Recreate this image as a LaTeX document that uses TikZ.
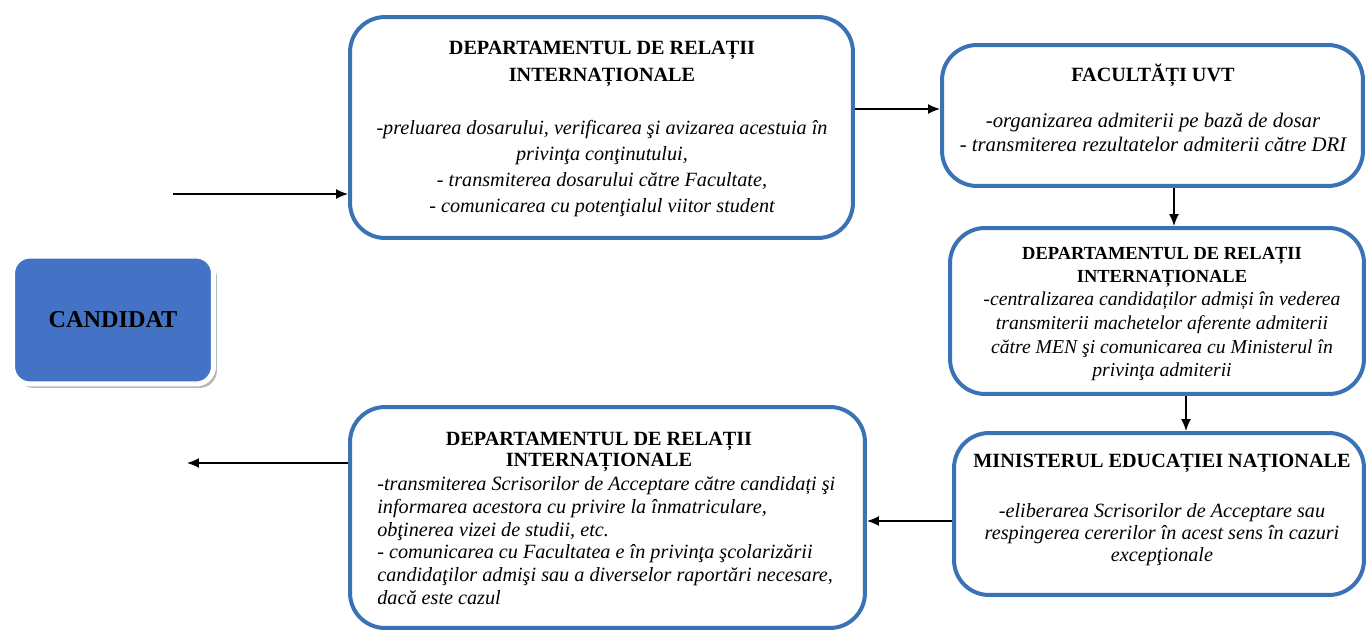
\documentclass[tikz,border=0pt]{standalone}
\usepackage{fontspec}
\setmainfont{Liberation Serif}
\usetikzlibrary{arrows.meta,shadows}
\definecolor{boxblue}{RGB}{58,114,182}
\definecolor{candblue}{RGB}{68,114,196}
\tikzset{
  procbox/.style={draw=boxblue, line width=0.08cm, rounded corners=0.7cm, fill=white, inner sep=0pt},
  candbox/.style={fill=candblue, draw=white, line width=0.1cm, rounded corners=0.35cm,
    minimum width=4.02cm, minimum height=2.56cm, inner sep=0pt,
    drop shadow={shadow xshift=0.07cm, shadow yshift=-0.08cm, fill=black!35, opacity=0.8}},
  txt/.style={inner sep=0pt, align=center, anchor=north},
  flow/.style={line width=0.85pt, -{Latex[length=0.24cm,width=0.2cm]}},
}
\newcommand{\ttl}[1]{{\upshape\bfseries\fontsize{11.5}{13}\selectfont #1}}
\newcommand{\ttls}[1]{{\upshape\bfseries\fontsize{10.5}{12}\selectfont #1}}
\begin{document}
\begin{tikzpicture}[x=0.02cm,y=-0.02cm]
\useasboundingbox (0,0) rectangle (1367,632);

% boxes
\node[procbox, minimum width=10.06cm, minimum height=4.42cm] (b1) at (601.5,127.5) {};
\node[procbox, minimum width=8.42cm, minimum height=2.82cm] (b2) at (1152.5,115.5) {};
\node[procbox, minimum width=8.28cm, minimum height=3.32cm] (b3) at (1157,311) {};
\node[procbox, minimum width=8.20cm, minimum height=3.24cm] (b4) at (1159,514) {};
\node[procbox, minimum width=10.30cm, minimum height=4.42cm] (b5) at (607.5,517.5) {};
\node[candbox, font=\fontsize{13.8}{15}\selectfont\bfseries] (cand) at (113,320) {CANDIDAT};

% texts
\node[txt, font=\fontsize{11.5}{14.7}\selectfont\itshape] (t1) at (602,41) {
  \ttl{DEPARTAMENTUL DE RELAȚII}\\[0.8pt]
  \ttl{INTERNAȚIONALE}\\[15.3pt]
  -preluarea dosarului, verificarea şi avizarea acestuia în\\
  privinţa conţinutului,\\
  - transmiterea dosarului către Facultate,\\
  - comunicarea cu potenţialul viitor student};

\node[txt, font=\fontsize{11.8}{13.6}\selectfont\itshape] (t2) at (1153,64) {
  \ttl{FACULTĂȚI UVT}\\[12.5pt]
  -organizarea admiterii pe bază de dosar\\
  - transmiterea rezultatelor admiterii către DRI};

\node[txt, font=\fontsize{11.2}{13.4}\selectfont\itshape] (t3) at (1162,247) {
  \ttls{DEPARTAMENTUL DE RELAȚII}\\[-0.4pt]
  \ttls{INTERNAȚIONALE}\\
  -centralizarea candidaților admiși în vederea\\
  transmiterii machetelor aferente admiterii\\
  către MEN şi comunicarea cu Ministerul în\\
  privinţa admiterii};

\node[txt, font=\fontsize{11.5}{12.6}\selectfont\itshape] (t4) at (1162,454) {
  \ttl{MINISTERUL EDUCAȚIEI NAȚIONALE}\\[15.5pt]
  -eliberarea Scrisorilor de Acceptare sau\\
  respingerea cererilor în acest sens în cazuri\\
  excepţionale};

\node[txt, font=\fontsize{11.5}{11.6}\selectfont] (t5) at (599,432) {
  \ttl{DEPARTAMENTUL DE RELAȚII}\\
  \ttl{INTERNAȚIONALE}};
\node[inner sep=0pt, align=left, anchor=north west, font=\fontsize{11.5}{13}\selectfont\itshape] (t6) at (377,476) {
  -transmiterea Scrisorilor de Acceptare către candidați şi\\
  informarea acestora cu privire la înmatriculare,\\
  obţinerea vizei de studii, etc.\\
  - comunicarea cu Facultatea e în privinţa şcolarizării\\
  candidaţilor admişi sau a diverselor raportări necesare,\\
  dacă este cazul};

% connectors
\coordinate (in) at (173,194);
\coordinate (out) at (187,463);
\draw[flow] (in) -- (in -| b1.west);
\draw[flow] (b1.east |- 0,109) -- (b2.west |- 0,109);
\draw[flow] (b2.south -| 1174,0) -- (b3.north -| 1174,0);
\draw[flow] (b3.south -| 1186,0) -- (b4.north -| 1186,0);
\draw[flow] (b4.west |- 0,521) -- (b5.east |- 0,521);
\draw[flow] (b5.west |- out) -- (out);
\end{tikzpicture}
\end{document}
